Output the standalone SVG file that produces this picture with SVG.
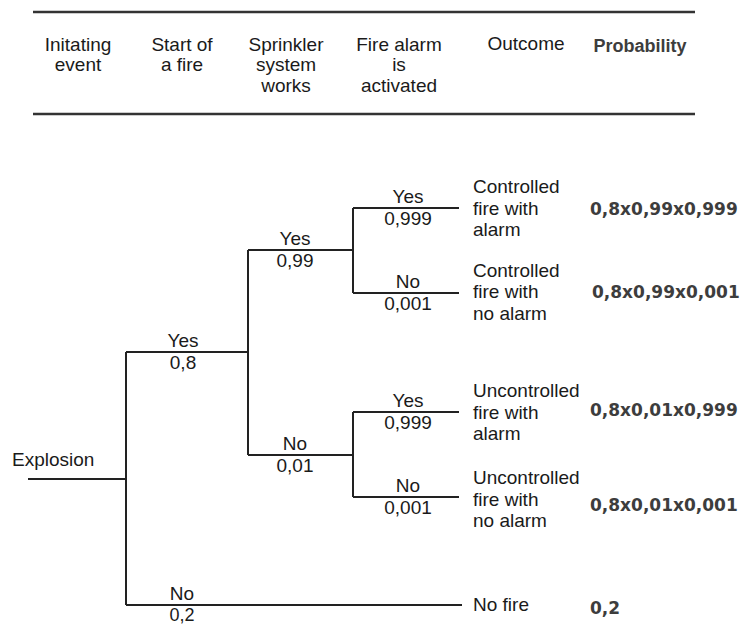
<svg xmlns="http://www.w3.org/2000/svg" width="740" height="625" viewBox="0 0 740 625">
<style>
  .t { font-family: "Liberation Sans", Arial, sans-serif; font-size: 19px; fill: #1a1a1a; }
  .c { text-anchor: middle; }
  .ph { font-family: "Liberation Sans", Arial, sans-serif; font-size: 18px; font-weight: bold; fill: #3d3d3d; text-anchor: middle; }
  .p { font-family: "DejaVu Sans", Verdana, sans-serif; font-size: 17px; font-weight: bold; fill: #3d3d3d; }
  .ln { fill: none; stroke: #222; stroke-width: 2; }
  .rule { fill: none; stroke: #333; stroke-width: 2.5; }
</style>
<rect width="740" height="625" fill="#fff"/>

<g id="header">
  <path class="rule" d="M33,12 H695"/>
  <path class="rule" d="M33,114 H695"/>
  <text class="t c" x="78" y="51">Initating</text>
  <text class="t c" x="78" y="71">event</text>
  <text class="t c" x="182" y="51">Start of</text>
  <text class="t c" x="182" y="71">a fire</text>
  <text class="t c" x="286" y="51">Sprinkler</text>
  <text class="t c" x="286" y="71">system</text>
  <text class="t c" x="286" y="92">works</text>
  <text class="t c" x="399" y="51">Fire alarm</text>
  <text class="t c" x="399" y="71">is</text>
  <text class="t c" x="399" y="92">activated</text>
  <text class="t c" x="526" y="50">Outcome</text>
  <text class="ph" x="640" y="52">Probability</text>
</g>

<g id="connectors">
  <path class="ln" d="M28,479 H126"/>
  <path class="ln" d="M126,352 V605"/>
  <path class="ln" d="M126,352 H248"/>
  <path class="ln" d="M126,605 H462"/>
  <path class="ln" d="M248,250 V455"/>
  <path class="ln" d="M248,250 H353"/>
  <path class="ln" d="M248,455 H353"/>
  <path class="ln" d="M353,208 V293"/>
  <path class="ln" d="M353,208 H459"/>
  <path class="ln" d="M353,293 H459"/>
  <path class="ln" d="M353,412 V497"/>
  <path class="ln" d="M353,412 H459"/>
  <path class="ln" d="M353,497 H459"/>
</g>

<g id="node-explosion">
  <text class="t" x="12" y="466">Explosion</text>
</g>

<g id="label-fire-yes">
  <text class="t c" x="183" y="347">Yes</text>
  <text class="t c" x="183" y="369">0,8</text>
</g>
<g id="label-fire-no">
  <text class="t c" x="182" y="600">No</text>
  <text class="t c" x="182" y="621" style="font-size:18px">0,2</text>
</g>
<g id="label-sprinkler-yes">
  <text class="t c" x="295" y="245">Yes</text>
  <text class="t c" x="295" y="267">0,99</text>
</g>
<g id="label-sprinkler-no">
  <text class="t c" x="295" y="450">No</text>
  <text class="t c" x="295" y="472">0,01</text>
</g>
<g id="label-alarm1-yes">
  <text class="t c" x="408" y="203">Yes</text>
  <text class="t c" x="408" y="225">0,999</text>
</g>
<g id="label-alarm1-no">
  <text class="t c" x="408" y="288">No</text>
  <text class="t c" x="408" y="310">0,001</text>
</g>
<g id="label-alarm2-yes">
  <text class="t c" x="408" y="407">Yes</text>
  <text class="t c" x="408" y="429">0,999</text>
</g>
<g id="label-alarm2-no">
  <text class="t c" x="408" y="492">No</text>
  <text class="t c" x="408" y="514">0,001</text>
</g>

<g id="outcome-1">
  <text class="t" x="473" y="193">Controlled</text>
  <text class="t" x="473" y="215">fire with</text>
  <text class="t" x="473" y="236">alarm</text>
  <text class="p" x="590" y="215">0,8x0,99x0,999</text>
</g>
<g id="outcome-2">
  <text class="t" x="473" y="277">Controlled</text>
  <text class="t" x="473" y="298">fire with</text>
  <text class="t" x="473" y="320">no alarm</text>
  <text class="p" x="592" y="298">0,8x0,99x0,001</text>
</g>
<g id="outcome-3">
  <text class="t" x="473" y="397">Uncontrolled</text>
  <text class="t" x="473" y="419">fire with</text>
  <text class="t" x="473" y="440">alarm</text>
  <text class="p" x="590" y="416">0,8x0,01x0,999</text>
</g>
<g id="outcome-4">
  <text class="t" x="473" y="484">Uncontrolled</text>
  <text class="t" x="473" y="506">fire with</text>
  <text class="t" x="473" y="527">no alarm</text>
  <text class="p" x="590" y="511">0,8x0,01x0,001</text>
</g>
<g id="outcome-5">
  <text class="t" x="473" y="611">No fire</text>
  <text class="p" x="590" y="614">0,2</text>
</g>
</svg>
